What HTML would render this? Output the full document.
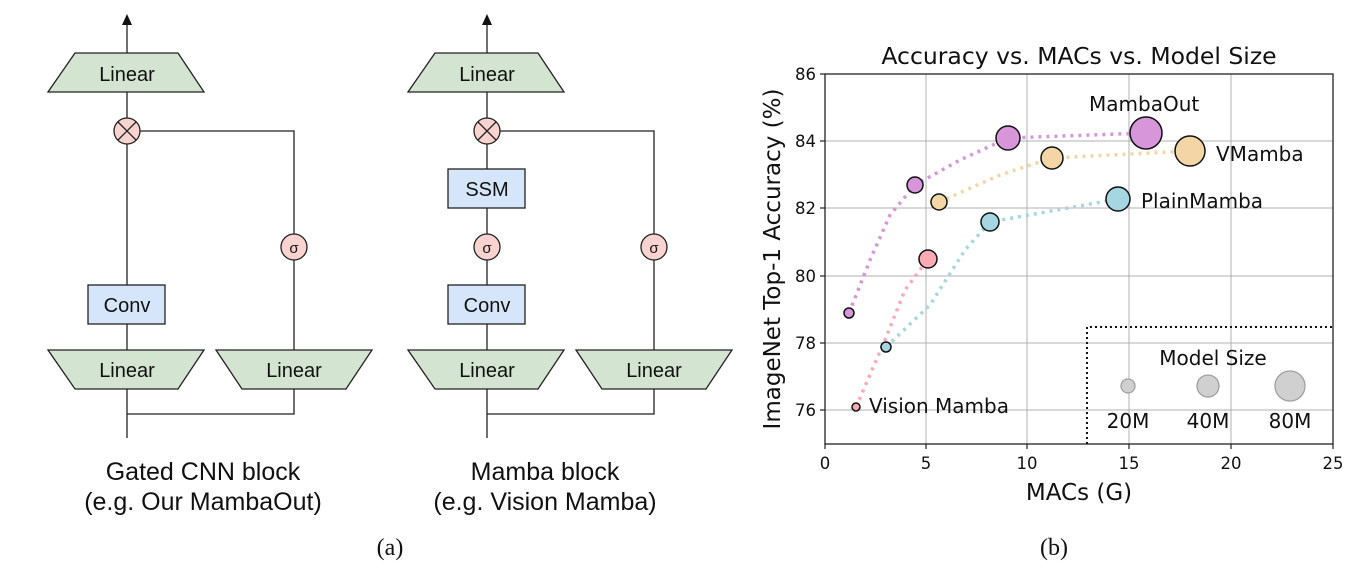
<!DOCTYPE html>
<html><head><style>
html,body{margin:0;padding:0;background:#fff;}
svg{display:block;}
</style></head><body>
<svg width="1372" height="572" xmlns="http://www.w3.org/2000/svg" font-family="Liberation Sans, sans-serif">
<defs>
<g id="blk" stroke="#222" stroke-width="1.3">
  <line x1="127" y1="22" x2="127" y2="53"/>
  <polygon points="127,14 122,25 132,25" fill="#111" stroke="none"/>
  <polygon points="75,53 178,53 204,92 48,92" fill="#d3e5d1"/>
  <line x1="127" y1="92" x2="127" y2="118"/>
  <polyline points="140,131 294,131 294,234" fill="none"/>
  <line x1="294" y1="260" x2="294" y2="350"/>
  <polygon points="48,350 204,350 178,389 75,389" fill="#d3e5d1"/>
  <polygon points="216,350 372,350 346,389 242,389" fill="#d3e5d1"/>
  <line x1="127" y1="389" x2="127" y2="438"/>
  <polyline points="127,414 294,414 294,389" fill="none"/>
  <circle cx="294" cy="247" r="13" fill="#f8d3cf"/>
  <circle cx="127" cy="131" r="13" fill="#f8d3cf"/>
  <line x1="118" y1="122" x2="136" y2="140"/>
  <line x1="136" y1="122" x2="118" y2="140"/>
</g>
</defs>
<g font-size="20" text-anchor="middle" fill="#111">
<use href="#blk"/>
<g stroke="#222" stroke-width="1.3">
<line x1="127" y1="144" x2="127" y2="285"/><line x1="127" y1="324" x2="127" y2="350"/>
<rect x="88" y="285" width="77" height="39" fill="#d6e6fa"/>
</g>
<text x="127" y="81">Linear</text><text x="127" y="377">Linear</text><text x="294" y="377">Linear</text>
<text x="127" y="312">Conv</text><text x="294" y="253" font-size="15">σ</text>

<g transform="translate(360,0)">
<use href="#blk"/>
<g stroke="#222" stroke-width="1.3">
<line x1="127" y1="144" x2="127" y2="285"/><line x1="127" y1="324" x2="127" y2="350"/>
<rect x="88" y="169" width="77" height="39" fill="#d6e6fa"/>
<rect x="88" y="285" width="77" height="39" fill="#d6e6fa"/>
<circle cx="127" cy="247" r="13" fill="#f8d3cf"/>
</g>
<text x="127" y="81">Linear</text><text x="127" y="377">Linear</text><text x="294" y="377">Linear</text>
<text x="127" y="312">Conv</text><text x="127" y="196">SSM</text>
<text x="294" y="253" font-size="15">σ</text><text x="127" y="253" font-size="15">σ</text>
</g>

<g font-size="25">
<text x="203" y="480">Gated CNN block</text><text x="203" y="510">(e.g. Our MambaOut)</text>
<text x="545" y="480">Mamba block</text><text x="545" y="510">(e.g. Vision Mamba)</text>
</g>
<text x="390" y="555" font-family="Liberation Serif, serif" font-size="24">(a)</text>
<text x="1054" y="555" font-family="Liberation Serif, serif" font-size="24">(b)</text>
</g>

<g font-family="DejaVu Sans, sans-serif">
<g stroke="#b0b0b0" stroke-width="1">
<line x1="926" y1="74" x2="926" y2="444"/><line x1="1027" y1="74" x2="1027" y2="444"/>
<line x1="1129" y1="74" x2="1129" y2="444"/><line x1="1231" y1="74" x2="1231" y2="444"/>
<line x1="825" y1="141" x2="1333" y2="141"/><line x1="825" y1="208" x2="1333" y2="208"/>
<line x1="825" y1="276" x2="1333" y2="276"/><line x1="825" y1="343" x2="1333" y2="343"/>
<line x1="825" y1="410" x2="1333" y2="410"/>
</g>
<rect x="825" y="74" width="508" height="370" fill="none" stroke="#222" stroke-width="1.3"/>
<g stroke="#222" stroke-width="1.2">
<line x1="825" y1="444" x2="825" y2="449"/><line x1="926" y1="444" x2="926" y2="449"/><line x1="1027" y1="444" x2="1027" y2="449"/><line x1="1129" y1="444" x2="1129" y2="449"/><line x1="1231" y1="444" x2="1231" y2="449"/><line x1="1333" y1="444" x2="1333" y2="449"/>
<line x1="820" y1="74" x2="825" y2="74"/><line x1="820" y1="141" x2="825" y2="141"/><line x1="820" y1="208" x2="825" y2="208"/><line x1="820" y1="276" x2="825" y2="276"/><line x1="820" y1="343" x2="825" y2="343"/><line x1="820" y1="410" x2="825" y2="410"/>
</g>
<g font-size="16.5" fill="#111" text-anchor="end">
<text x="816" y="80">86</text><text x="816" y="147">84</text><text x="816" y="214">82</text><text x="816" y="282">80</text><text x="816" y="349">78</text><text x="816" y="416">76</text>
</g>
<g font-size="16.5" fill="#111" text-anchor="middle">
<text x="825" y="469">0</text><text x="926" y="469">5</text><text x="1027" y="469">10</text><text x="1129" y="469">15</text><text x="1231" y="469">20</text><text x="1333" y="469">25</text>
</g>
<text x="1079" y="64" font-size="23.5" text-anchor="middle" fill="#111">Accuracy vs. MACs vs. Model Size</text>
<text x="1079" y="500" font-size="23" text-anchor="middle" fill="#111">MACs (G)</text>
<text transform="translate(780,259) rotate(-90)" font-size="23" text-anchor="middle" fill="#111">ImageNet Top-1 Accuracy (%)</text>

<g fill="none" stroke-width="3.5" stroke-dasharray="3,5">
<polyline points="849,313 870,260 890,215 915,185 960,160 1008,138 1146,133" stroke="#d896da"/>
<polyline points="939,202 1000,175 1052,158 1190,151" stroke="#f3d5a6"/>
<polyline points="886,347 930,305 965,250 990,222 1118,199" stroke="#a6d6e2"/>
<polyline points="856,407 885,340 905,290 928,259" stroke="#f9aab3"/>
</g>
<g stroke="#111" stroke-width="1.5">
<circle cx="849" cy="313" r="5" fill="#d896da"/><circle cx="915" cy="185" r="8" fill="#d896da"/>
<circle cx="1008" cy="138" r="12" fill="#d896da"/><circle cx="1146" cy="133" r="16" fill="#d896da"/>
<circle cx="939" cy="202" r="8" fill="#f3d5a6"/><circle cx="1052" cy="158" r="11" fill="#f3d5a6"/><circle cx="1190" cy="151" r="15" fill="#f3d5a6"/>
<circle cx="886" cy="347" r="5" fill="#a6d6e2"/><circle cx="990" cy="222" r="9" fill="#a6d6e2"/><circle cx="1118" cy="199" r="12" fill="#a6d6e2"/>
<circle cx="856" cy="407" r="4" fill="#f9aab3"/><circle cx="928" cy="259" r="9" fill="#f9aab3"/>
</g>
<g font-size="20" fill="#111">
<text x="1089" y="111">MambaOut</text><text x="1216" y="161">VMamba</text>
<text x="1141" y="208">PlainMamba</text><text x="869" y="413">Vision Mamba</text>
</g>
<polyline points="1087,444 1087,327 1333,327" fill="none" stroke="#111" stroke-width="2" stroke-dasharray="2,3"/>
<text x="1213" y="365" font-size="20" text-anchor="middle" fill="#111">Model Size</text>
<g fill="#d0d0d0" stroke="#a0a0a0" stroke-width="1.3">
<circle cx="1128" cy="386" r="7"/><circle cx="1208" cy="386" r="11"/><circle cx="1290" cy="386" r="15"/>
</g>
<g font-size="20" text-anchor="middle" fill="#111">
<text x="1128" y="428">20M</text><text x="1208" y="428">40M</text><text x="1290" y="428">80M</text>
</g>
</g>
</svg>
</body></html>
